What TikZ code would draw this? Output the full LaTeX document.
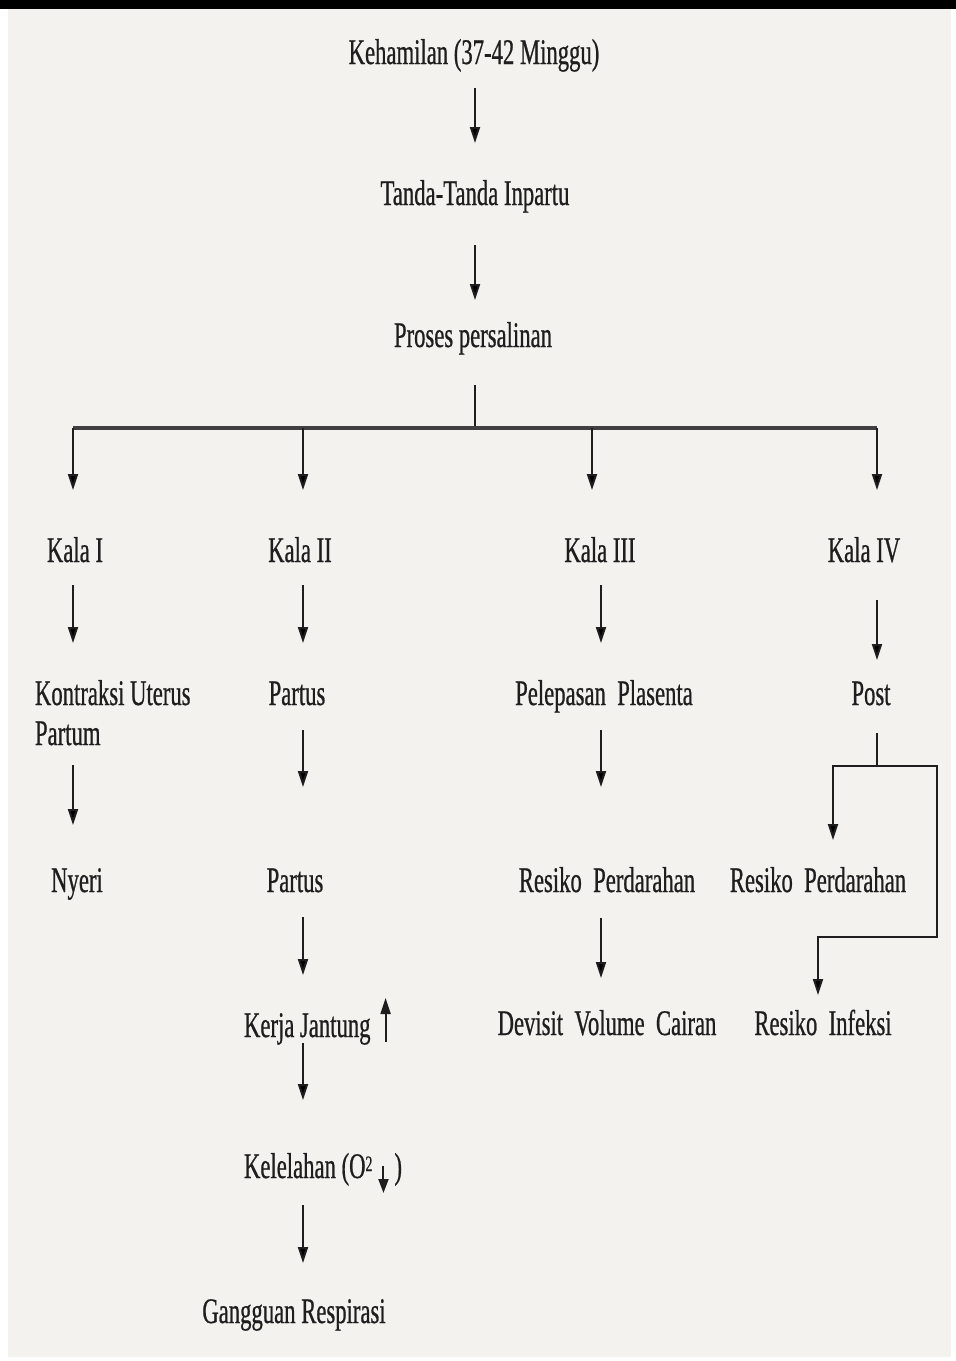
\documentclass[tikz,border=0pt]{standalone}
\usepackage{fontspec}
\setmainfont{Liberation Serif}[FakeStretch=0.63,FakeBold=0.6]
\usetikzlibrary{arrows.meta}
\definecolor{bgc}{HTML}{F4F2EF}
\definecolor{ink}{HTML}{1E1E1E}
\newcommand\myuparrow{\tikz[baseline=0pt]\draw[draw=ink,line width=1pt,-{Triangle[length=8pt,width=5pt]}] (0pt,-2.5pt) -- (0pt,19.5pt);}
\newcommand\mydownarrow{\tikz[baseline=0pt]\draw[draw=ink,line width=1pt,-{Triangle[length=7pt,width=5pt]}] (0pt,6pt) -- (0pt,-7.5pt);}
\begin{document}
\begin{tikzpicture}[x=0.5pt,y=-0.5pt,
  lbl/.style={inner sep=0pt, outer sep=0pt, text=ink, font=\fontsize{18pt}{20pt}\selectfont, anchor=base},
  arr/.style={draw=ink, line width=1pt, -{Triangle[length=8pt,width=5pt]}},
  ln/.style={draw=ink, line width=1pt},
  barline/.style={draw=ink!85, line width=1.6pt}]
\useasboundingbox (0,0) rectangle (956,1361);
\fill[white] (0,0) rectangle (956,1361);
\fill[bgc] (8,9) rectangle (951,1357);
\fill[black] (0,0) rectangle (956,9);

% nodes
\node[lbl] (keh) at (474,64) {Kehamilan (37-42 Minggu)};
\node[lbl] (tanda) at (475,205) {Tanda-Tanda Inpartu};
\node[lbl] (proses) at (473,347) {Proses persalinan};
\node[lbl] (k1) at (75,562) {Kala I};
\node[lbl] (k2) at (300,562) {Kala II};
\node[lbl] (k3) at (600,562) {Kala III};
\node[lbl] (k4) at (864,562) {Kala IV};
\node[lbl, anchor=base west, align=left] (kont) at (35,745) {Kontraksi Uterus\\Partum};
\node[lbl] (p1) at (297,705) {Partus};
\node[lbl] (pel) at (604,705) {Pelepasan\ \ Plasenta};
\node[lbl] (post) at (871,705) {Post};
\node[lbl] (ny) at (77,892) {Nyeri};
\node[lbl] (p2) at (295,892) {Partus};
\node[lbl] (rp1) at (607,892) {Resiko\ \ Perdarahan};
\node[lbl] (rp2) at (818,892) {Resiko\ \ Perdarahan};
\node[lbl, anchor=base west] (kerja) at (244,1037) {Kerja Jantung\hspace{5pt}\myuparrow};
\node[lbl] (dev) at (607,1035) {Devisit\ \ Volume\ \ Cairan};
\node[lbl] (ri) at (823,1035) {Resiko\ \ Infeksi};
\node[lbl, anchor=base west] (kel) at (244,1178) {Kelelahan (O\raisebox{3.5pt}{\fontsize{11pt}{12pt}\selectfont 2}\hspace{3pt}\mydownarrow\hspace{3pt})};
\node[lbl] (gang) at (294,1323) {Gangguan Respirasi};

% top chain
\draw[arr] ([shift={(1,24)}]keh.base) -- ([shift={(1,79)}]keh.base);
\draw[arr] ([shift={(0,40)}]tanda.base) -- ([shift={(0,95)}]tanda.base);
\draw[ln] ([shift={(2,38)}]proses.base) -- ([shift={(2,81)}]proses.base) coordinate (br);
\draw[barline] ([shift={(-2,-134)}]k1.base) -- ([shift={(13,-134)}]k4.base);
\draw[arr] ([shift={(-2,-134)}]k1.base) -- ([shift={(-2,-72)}]k1.base);
\draw[arr] ([shift={(3,-134)}]k2.base) -- ([shift={(3,-72)}]k2.base);
\draw[arr] ([shift={(-8,-134)}]k3.base) -- ([shift={(-8,-72)}]k3.base);
\draw[arr] ([shift={(13,-134)}]k4.base) -- ([shift={(13,-72)}]k4.base);

% column 1
\draw[arr] ([shift={(-2,23)}]k1.base) -- ([shift={(-2,81)}]k1.base);
\draw[arr] ([shift={(-4,-127)}]ny.base) -- ([shift={(-4,-67)}]ny.base);

% column 2
\draw[arr] ([shift={(3,23)}]k2.base) -- ([shift={(3,81)}]k2.base);
\draw[arr] ([shift={(6,25)}]p1.base) -- ([shift={(6,82)}]p1.base);
\draw[arr] ([shift={(8,25)}]p2.base) -- ([shift={(8,83)}]p2.base);
\draw[arr] ([shift={(59,6)}]kerja.base west) -- ([shift={(59,63)}]kerja.base west);
\draw[arr] ([shift={(59,27)}]kel.base west) -- ([shift={(59,85)}]kel.base west);

% column 3
\draw[arr] ([shift={(1,23)}]k3.base) -- ([shift={(1,81)}]k3.base);
\draw[arr] ([shift={(-3,25)}]pel.base) -- ([shift={(-3,82)}]pel.base);
\draw[arr] ([shift={(-6,26)}]rp1.base) -- ([shift={(-6,86)}]rp1.base);

% column 4
\draw[arr] ([shift={(13,38)}]k4.base) -- ([shift={(13,98)}]k4.base);
\draw[ln] ([shift={(6,28)}]post.base) -- ([shift={(6,61)}]post.base) coordinate (pj);
\draw[arr] (pj) -| ([shift={(15,-52)}]rp2.base);
\draw[arr] (pj) -| ([shift={(119,45)}]rp2.base) -| ([shift={(-5,-40)}]ri.base);
\end{tikzpicture}
\end{document}
